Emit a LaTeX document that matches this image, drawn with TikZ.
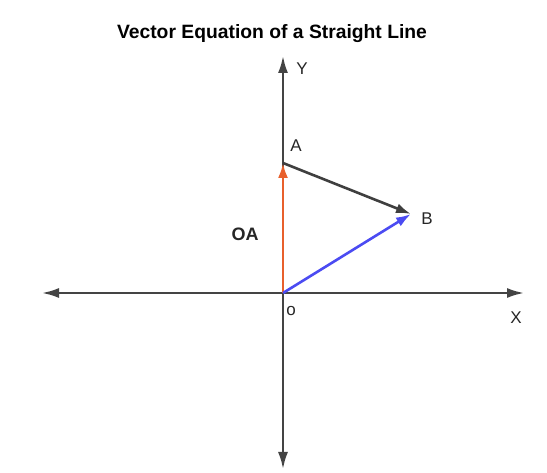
\documentclass[tikz,border=0pt]{standalone}
\usepackage{fontspec}
\setmainfont{Liberation Sans}
\usetikzlibrary{arrows.meta}

\definecolor{axisgray}{HTML}{444444}
\definecolor{vecorange}{HTML}{E8602C}
\definecolor{vecblue}{HTML}{4B4BF2}
\definecolor{vecgray}{HTML}{3F3F3F}

\tikzset{
  axis/.style={draw=axisgray, line width=2.3pt, -{Latex[length=17pt,width=10pt]}},
  vector/.style={line width=2.6pt, -{Latex[length=15pt,width=10pt]}},
  lbl/.style={font=\fontsize{17}{20}\selectfont, text=black!85}
}

\begin{document}
\begin{tikzpicture}[x=1pt, y=-1pt]

    \useasboundingbox (0,0) rectangle (547,473);

    \node[font=\bfseries\fontsize{19.3}{22}\selectfont] (title) at (272,34) {Vector Equation of a Straight Line};


    \coordinate (O) at (283,293);

    \coordinate (xleft) at (42,293);

    \coordinate (xright) at (524,293);

    \coordinate (ytop) at (283,56);

    \coordinate (ybottom) at (283,469);

    \coordinate (A) at (283,163);

    \coordinate (B) at (411,214);


    \draw[axis] (O) -- (xright);

    \draw[axis] (O) -- (xleft);

    \draw[axis] (O) -- (ytop);

    \draw[axis] (O) -- (ybottom);


    \draw[vector, vecorange] (O) -- (A);

    \draw[vector, vecblue] (O) -- (B);

    \draw[vector, vecgray] (A) -- (B);


    \node[lbl] (ylabel) at (302,69) {Y};

    \node[lbl] (xlabel) at (516,318) {X};

    \node[lbl] (olabel) at (291,311) {o};

    \node[lbl] (alabel) at (296,146) {A};

    \node[lbl] (blabel) at (427,219) {B};

    \node[lbl, font=\bfseries\fontsize{18}{20}\selectfont] (oalabel) at (245,234) {OA};

\end{tikzpicture}
\end{document}
